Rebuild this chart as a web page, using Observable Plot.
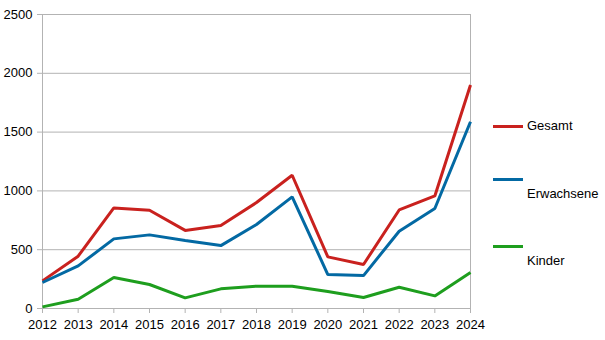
<!DOCTYPE html>
<html>
<head>
<meta charset="utf-8">
<script src="https://cdn.jsdelivr.net/npm/d3@7"></script>
<script src="https://cdn.jsdelivr.net/npm/@observablehq/plot@0.6"></script>
<style>
  html, body { margin: 0; padding: 0; background: #fff; }
  #wrap { position: relative; width: 605px; height: 340px; font-family: "Liberation Sans", Arial, sans-serif; }
  .lg { position: absolute; font-size: 13px; color: #000; line-height: 15px; white-space: nowrap; }
  .sw { position: absolute; width: 30px; height: 3px; }
</style>
</head>
<body>
<div id="wrap"></div>
<script>
const years = [2012, 2013, 2014, 2015, 2016, 2017, 2018, 2019, 2020, 2021, 2022, 2023, 2024];
const gesamt = [235, 445, 855, 836, 664, 705, 901, 1133, 439, 374, 838, 957, 1900];
const erwachsene = [221, 362, 592, 626, 578, 535, 714, 949, 289, 280, 657, 850, 1588];
const kinder = [14, 79, 263, 204, 90, 167, 190, 190, 145, 93, 181, 107, 306];
const seriesNames = ["Gesamt", "Erwachsene", "Kinder"];
const seriesColors = ["#c9211e", "#0369a3", "#1e9e1e"];
const yTicks = [0, 500, 1000, 1500, 2000, 2500];

const rows = [];
[gesamt, erwachsene, kinder].forEach((vals, si) => {
  vals.forEach((v, i) => rows.push({year: years[i], value: v, series: seriesNames[si]}));
});

const grid = "#b3b3b3";
const chart = Plot.plot({
  width: 605,
  height: 340,
  marginLeft: 42,
  marginRight: 135,
  marginTop: 14,
  marginBottom: 32,
  style: {fontFamily: "Liberation Sans, Arial, sans-serif", fontSize: "13px", color: "#000", background: "#fff"},
  x: {type: "linear", domain: [2012, 2024]},
  y: {domain: [0, 2500]},
  color: {domain: seriesNames, range: seriesColors},
  marks: [
    Plot.gridY(yTicks, {stroke: grid, strokeOpacity: 1}),
    Plot.frame({stroke: grid}),
    Plot.axisY(yTicks, {tickSize: 5, tickPadding: 5, stroke: grid, strokeOpacity: 1, tickFormat: d => String(d), label: null, fill: "#000"}),
    Plot.axisX(years, {tickSize: 5, tickPadding: 6, stroke: grid, strokeOpacity: 1, tickFormat: d => String(d), label: null, fill: "#000"}),
    Plot.line(rows, {x: "year", y: "value", z: "series", stroke: "series", strokeWidth: 3, strokeLinejoin: "miter", strokeLinecap: "butt"})
  ]
});
const wrap = document.getElementById("wrap");
wrap.appendChild(chart);

const legendPos = [
  {line: 126, text: 126},
  {line: 179, text: 194},
  {line: 246, text: 261}
];
seriesNames.forEach((name, i) => {
  const sw = document.createElement("div");
  sw.className = "sw";
  sw.style.left = "493px";
  sw.style.top = (legendPos[i].line - 1.5) + "px";
  sw.style.background = seriesColors[i];
  wrap.appendChild(sw);
  const t = document.createElement("div");
  t.className = "lg";
  t.style.left = "527px";
  t.style.top = (legendPos[i].text - 8) + "px";
  t.textContent = name;
  wrap.appendChild(t);
});
</script>
</body>
</html>
